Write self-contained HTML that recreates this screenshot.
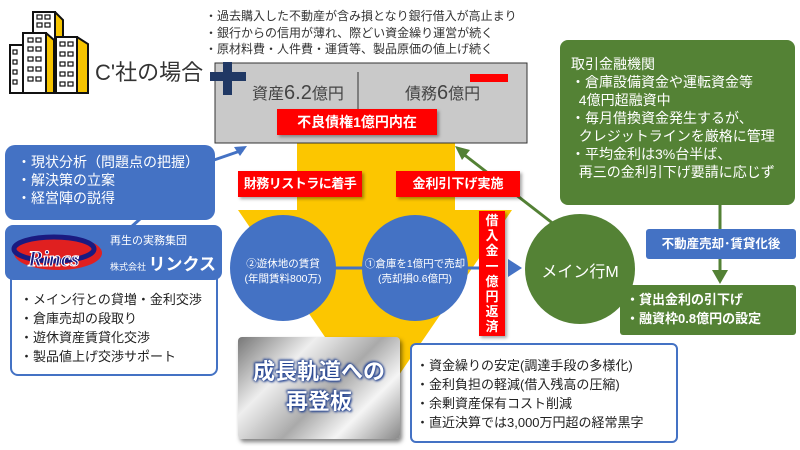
<!DOCTYPE html>
<html><head><meta charset="utf-8"><style>
body{margin:0;width:800px;height:450px;background:#fff;position:relative;overflow:hidden;font-family:"Liberation Sans","Noto Sans CJK JP",sans-serif}
.a{position:absolute;box-sizing:border-box}
.red{background:#f00;color:#fff;font-weight:bold;text-align:center;box-shadow:2px 2px 3px rgba(0,0,0,.35);white-space:nowrap}
.t{white-space:nowrap}
</style></head><body>
<svg class="a" style="left:0;top:0" width="800" height="450">
<g stroke="#111" stroke-width="2">
<polygon points="33,12 55,12 63,20 63,90 33,90" fill="#f6c400"/><rect x="33" y="12" width="22" height="78" fill="#fff"/>
<rect x="10" y="45" width="18" height="48" fill="#fff"/>
<polygon points="23,33 46,33 54,40 54,93 23,93" fill="#f6c400"/><rect x="23" y="33" width="23" height="60" fill="#fff"/>
<polygon points="56,37 77,37 88,44 88,93 56,93" fill="#f6c400"/><rect x="56" y="37" width="21" height="56" fill="#fff"/>
</g>
<g fill="none" stroke="#111" stroke-width="1.2">
<rect x="37" y="15" width="5" height="4"/><rect x="45" y="15" width="5" height="4"/><rect x="37" y="23" width="5" height="4"/><rect x="45" y="23" width="5" height="4"/>
<rect x="28" y="38" width="5" height="4"/><rect x="36" y="38" width="5" height="4"/><rect x="28" y="47" width="5" height="4"/><rect x="36" y="47" width="5" height="4"/><rect x="28" y="57" width="5" height="4"/><rect x="36" y="57" width="5" height="4"/><rect x="28" y="67" width="5" height="4"/><rect x="36" y="67" width="5" height="4"/><rect x="28" y="77" width="5" height="4"/><rect x="36" y="77" width="5" height="4"/>
<rect x="60" y="42" width="5" height="4"/><rect x="68" y="42" width="5" height="4"/><rect x="60" y="52" width="5" height="4"/><rect x="68" y="52" width="5" height="4"/><rect x="60" y="62" width="5" height="4"/><rect x="68" y="62" width="5" height="4"/><rect x="60" y="72" width="5" height="4"/><rect x="68" y="72" width="5" height="4"/><rect x="60" y="82" width="5" height="4"/><rect x="68" y="82" width="5" height="4"/>
<rect x="13" y="50" width="4" height="4"/><rect x="13" y="60" width="4" height="4"/><rect x="13" y="70" width="4" height="4"/><rect x="13" y="80" width="4" height="4"/>
</g>
<polygon points="297,143 455,143 455,210 512,210 375,410 238,210 297,210" fill="#fcc600"/>
<rect x="215" y="63" width="312" height="80" fill="#c9c9c9" stroke="#333" stroke-width="1"/>
<line x1="358" y1="72" x2="358" y2="110" stroke="#333" stroke-width="1"/>
<rect x="210" y="72" width="36" height="9" fill="#203864"/><rect x="223" y="62" width="9" height="33" fill="#203864"/>
<rect x="470" y="74" width="38" height="8" fill="#f00"/>
<line x1="185" y1="170" x2="243" y2="150" stroke="#4472c4" stroke-width="3"/>
<polygon points="247,146 234,147 240,156" fill="#4472c4"/>
<line x1="130" y1="228" x2="150" y2="210" stroke="#4472c4" stroke-width="3"/>
<line x1="555" y1="225" x2="462" y2="153" stroke="#538135" stroke-width="3"/>
<polygon points="455,146 470,150 462,160" fill="#538135"/>
<line x1="330" y1="268" x2="505" y2="268" stroke="#4472c4" stroke-width="3"/>
<polygon points="522,268 508,259 508,277" fill="#4472c4"/>
<line x1="720" y1="205" x2="720" y2="275" stroke="#538135" stroke-width="3"/>
<polygon points="720,284 712,270 728,270" fill="#538135"/>
<circle cx="283" cy="268" r="53" fill="#4472c4"/>
<circle cx="415" cy="268" r="53" fill="#4472c4"/>
<circle cx="580" cy="269" r="55" fill="#548235"/>
</svg>
<div class="a t" style="left:95px;top:55px;font-size:22px;color:#333">C'社の場合</div>
<div class="a t" style="left:205px;top:8px;font-size:12px;line-height:16.5px;color:#333">・過去購入した不動産が含み損となり銀行借入が高止まり<br>・銀行からの信用が薄れ、際どい資金繰り運営が続く<br>・原材料費・人件費・運賃等、製品原価の値上げ続く</div>
<div class="a t" style="left:252px;top:80px;font-size:16px;color:#444">資産<span style="font-size:20px">6.2</span>億円</div>
<div class="a t" style="left:405px;top:80px;font-size:16px;color:#444">債務<span style="font-size:20px">6</span>億円</div>
<div class="a red" style="left:277px;top:109px;width:160px;height:26px;line-height:26px;font-size:14px">不良債権1億円内在</div>
<div class="a red" style="left:238px;top:171px;width:124px;height:26px;line-height:26px;font-size:13px;letter-spacing:-0.5px">財務リストラに着手</div>
<div class="a red" style="left:396px;top:171px;width:124px;height:26px;line-height:26px;font-size:13px">金利引下げ実施</div>
<div class="a red" style="left:479px;top:211px;width:26px;height:125px;font-size:13px;line-height:15.2px;padding-top:2px;white-space:normal">借<br>入<br>金<br>一<br>億<br>円<br>返<br>済</div>
<div class="a t" style="left:232px;top:257px;width:102px;text-align:center;font-size:10.5px;line-height:15px;color:#fff">②遊休地の賃貸<br>(年間賃料800万)</div>
<div class="a t" style="left:362px;top:257px;width:106px;text-align:center;font-size:10.5px;line-height:15px;color:#fff">①倉庫を1億円で売却<br>(売却損0.6億円)</div>
<div class="a t" style="left:525px;top:258px;width:110px;text-align:center;font-size:16px;color:#fff">メイン行M</div>
<div class="a" style="left:5px;top:145px;width:210px;height:75px;background:#4472c4;border-radius:10px;color:#fff;font-size:14px;line-height:18px;padding:8px 0 0 12px">・現状分析（問題点の把握）<br>・解決策の立案<br>・経営陣の説得</div>
<div class="a" style="left:10px;top:270px;width:208px;height:106px;border:2px solid #4472c4;border-radius:8px;background:#fff;color:#222;font-size:13px;line-height:19px;padding:18px 0 0 8px">・メイン行との貸増・金利交渉<br>・倉庫売却の段取り<br>・遊休資産賃貸化交渉<br>・製品値上げ交渉サポート</div>
<div class="a" style="left:5px;top:225px;width:217px;height:55px;background:#4472c4;border-radius:8px"></div>
<svg class="a" style="left:8px;top:232px" width="95" height="42"><ellipse cx="50" cy="21" rx="44" ry="17" fill="#e02020"/><ellipse cx="46" cy="17" rx="40" ry="12" fill="none" stroke="#1a1a80" stroke-width="5"/><text x="20" y="34" font-family="Liberation Serif" font-weight="bold" font-style="italic" font-size="22" fill="#1a1a80" stroke="#fff" stroke-width="1">Rincs</text></svg>
<div class="a t" style="left:110px;top:232px;font-size:11px;color:#fff">再生の実務集団</div>
<div class="a t" style="left:110px;top:250px;font-size:9px;color:#fff">株式会社 <span style="font-size:17px;font-weight:bold">リンクス</span></div>
<div class="a" style="left:560px;top:40px;width:235px;height:165px;background:#548235;border-radius:8px;color:#fff;font-size:14px;line-height:18px;padding:15px 0 0 11px;white-space:nowrap">取引金融機関<br>・倉庫設備資金や運転資金等<br>&nbsp;&nbsp;4億円超融資中<br>・毎月借換資金発生するが、<br>&nbsp;&nbsp;クレジットラインを厳格に管理<br>・平均金利は3%台半ば、<br>&nbsp;&nbsp;再三の金利引下げ要請に応じず</div>
<div class="a t" style="left:646px;top:229px;width:150px;height:30px;background:#4472c4;border-radius:3px;color:#fff;font-size:12.5px;font-weight:bold;line-height:30px;text-align:center">不動産売却･賃貸化後</div>
<div class="a t" style="left:620px;top:285px;width:176px;height:50px;background:#548235;border-radius:3px;color:#fff;font-size:13px;font-weight:bold;line-height:19px;padding:5px 0 0 6px">・貸出金利の引下げ<br>・融資枠0.8億円の設定</div>
<div class="a" style="left:238px;top:337px;width:162px;height:102px;background:linear-gradient(135deg,#777 0%,#eee 30%,#aaa 55%,#f5f5f5 75%,#888 100%);border-radius:4px;box-shadow:2px 3px 4px rgba(0,0,0,.5);text-align:center;font-size:22px;font-weight:bold;line-height:30px;padding-top:20px;color:#fff;text-shadow:0 0 3px #1f3f8f,1px 1px 2px #1f3f8f,-1px -1px 2px #1f3f8f">成長軌道への<br>再登板</div>
<div class="a t" style="left:410px;top:343px;width:268px;height:100px;border:2px solid #4472c4;border-radius:6px;background:#fff;color:#222;font-size:13px;line-height:19px;padding:11px 0 0 4px">・資金繰りの安定(調達手段の多様化)<br>・金利負担の軽減(借入残高の圧縮)<br>・余剰資産保有コスト削減<br>・直近決算では3,000万円超の経常黒字</div>
</body></html>
